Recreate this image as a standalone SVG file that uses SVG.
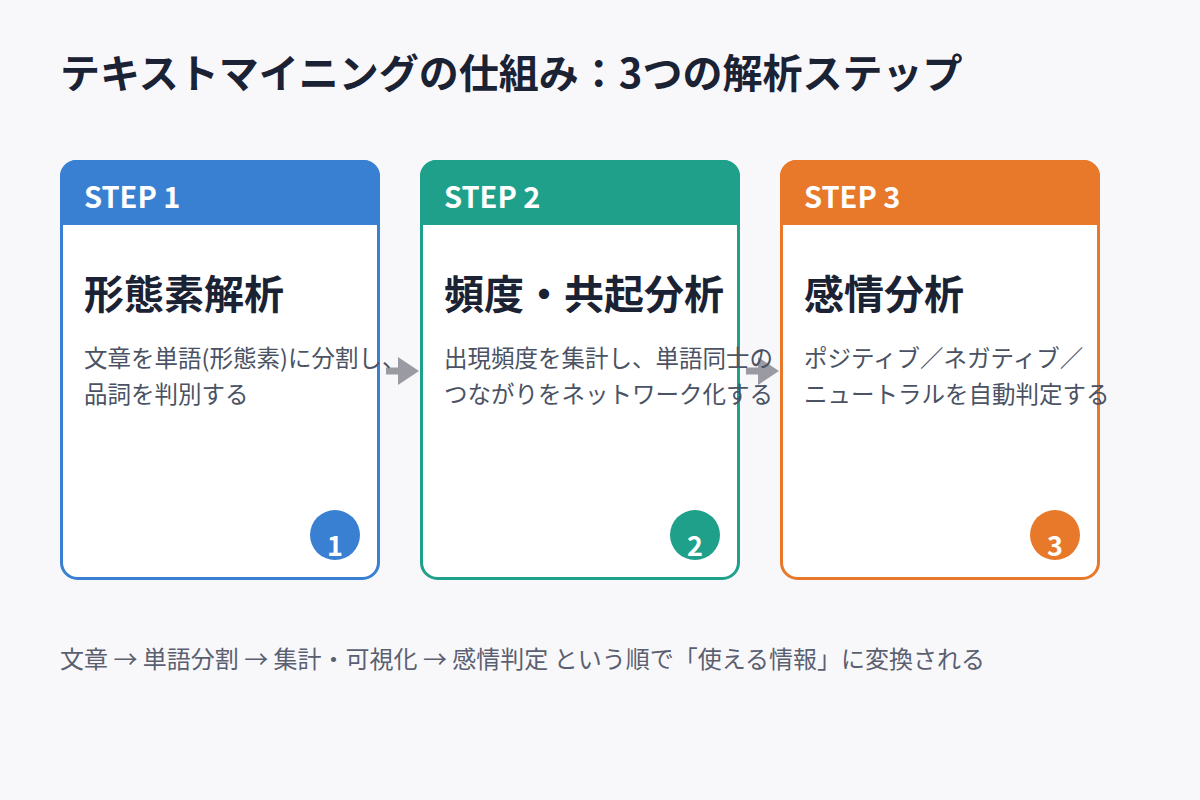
<svg xmlns="http://www.w3.org/2000/svg" width="1200" height="800" viewBox="0 0 1200 800">
<defs>
<style>
text{font-family:"Noto Sans CJK JP","Noto Sans",sans-serif}
.title{font-size:40px;font-weight:700;fill:#1a2233}
.step{font-size:29px;font-weight:700;fill:#fff}
.h{font-size:40px;font-weight:700;fill:#1a2233}
.b{font-size:23.5px;fill:#4a5263}
.num{font-size:27px;font-weight:700;fill:#fff}
.foot{font-size:24px;fill:#5a6070}
.card{fill:#fff;stroke-width:3}
</style>
<marker id="ah" markerWidth="4" markerHeight="4" refX="2" refY="2" orient="auto"><path d="M0,0L3,2L0,4Z" fill="#9a9aa3"/></marker>
</defs>
<rect width="1200" height="800" fill="#f8f8fb"/>
<text class="title" x="60" y="88">テキストマイニングの仕組み：3つの解析ステップ</text>
<g id="connectors">
<line x1="386" y1="371" x2="412" y2="371" stroke="#9a9aa3" stroke-width="7" marker-end="url(#ah)"/>
<line x1="746" y1="371" x2="772" y2="371" stroke="#9a9aa3" stroke-width="7" marker-end="url(#ah)"/>
</g>
<g id="step1">
<rect class="card" x="61.5" y="161.5" width="317" height="417" rx="16" stroke="#3a80d2"/>
<path d="M60,225V176a16,16 0 0 1 16-16H364a16,16 0 0 1 16,16V225Z" fill="#3a80d2"/>
<text class="step" x="84" y="208">STEP 1</text>
<text class="h" x="84" y="309">形態素解析</text>
<text class="b" x="84" y="367">文章を単語(形態素)に分割し、</text>
<text class="b" x="84" y="403">品詞を判別する</text>
<circle cx="335" cy="535" r="25" fill="#3a80d2"/>
<text class="num" x="335" y="556" text-anchor="middle">1</text>
</g>
<g id="step2">
<rect class="card" x="421.5" y="161.5" width="317" height="417" rx="16" stroke="#1fa08a"/>
<path d="M420,225V176a16,16 0 0 1 16-16H724a16,16 0 0 1 16,16V225Z" fill="#1fa08a"/>
<text class="step" x="444" y="208">STEP 2</text>
<text class="h" x="444" y="309">頻度・共起分析</text>
<text class="b" x="444" y="367">出現頻度を集計し、単語同士の</text>
<text class="b" x="444" y="403">つながりをネットワーク化する</text>
<circle cx="695" cy="535" r="25" fill="#1fa08a"/>
<text class="num" x="695" y="556" text-anchor="middle">2</text>
</g>
<g id="step3">
<rect class="card" x="781.5" y="161.5" width="317" height="417" rx="16" stroke="#e8782a"/>
<path d="M780,225V176a16,16 0 0 1 16-16H1084a16,16 0 0 1 16,16V225Z" fill="#e8782a"/>
<text class="step" x="804" y="208">STEP 3</text>
<text class="h" x="804" y="309">感情分析</text>
<text class="b" x="804" y="367">ポジティブ／ネガティブ／</text>
<text class="b" x="804" y="403">ニュートラルを自動判定する</text>
<circle cx="1055" cy="535" r="25" fill="#e8782a"/>
<text class="num" x="1055" y="556" text-anchor="middle">3</text>
</g>
<text class="foot" x="60" y="668">文章 → 単語分割 → 集計・可視化 → 感情判定 という順で「使える情報」に変換される</text>
</svg>
